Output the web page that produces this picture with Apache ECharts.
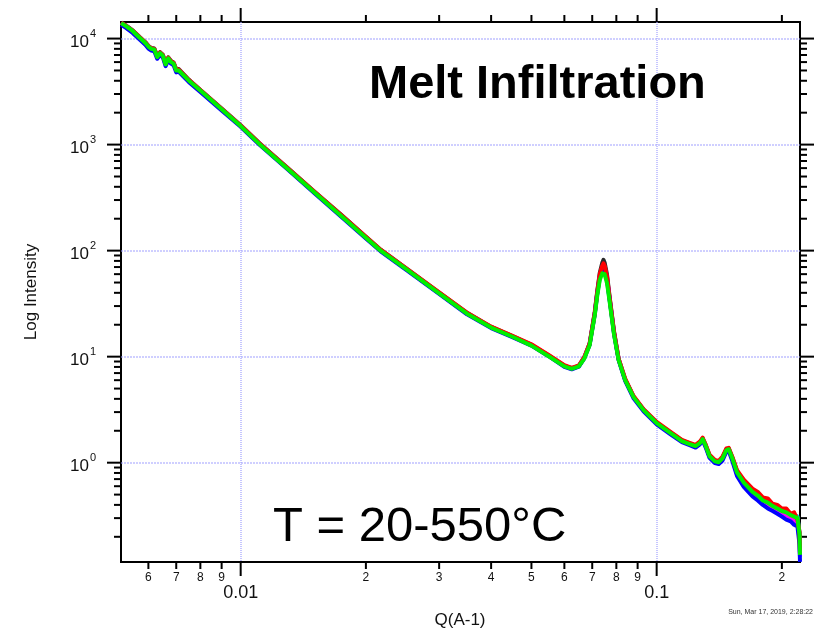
<!DOCTYPE html>
<html><head><meta charset="utf-8">
<script src="https://cdn.jsdelivr.net/npm/echarts@6/dist/echarts.min.js"></script>
<style>html,body{margin:0;padding:0;background:#fff}#c{width:814px;height:630px}</style>
</head><body><div id="c"></div>
<script>
// ---- data ----
const qValues = [0.00516,0.0053,0.0055,0.0057,0.0059,0.0060,0.0061,0.0062,0.0063,0.0064,0.0065,0.0066,0.0067,0.0068,0.0069,0.0070,0.0071,0.0075,0.008,0.009,0.01,0.0111,0.013,0.015,0.0175,0.02,0.0217,0.025,0.03,0.035,0.04,0.045,0.05,0.055,0.06,0.0625,0.065,0.067,0.069,0.071,0.072,0.073,0.074,0.0745,0.075,0.076,0.077,0.079,0.081,0.084,0.088,0.093,0.1,0.108,0.115,0.12,0.124,0.127,0.129,0.131,0.134,0.138,0.141,0.144,0.147,0.149,0.152,0.156,0.162,0.17,0.175,0.18,0.185,0.19,0.195,0.2,0.205,0.21,0.214,0.218,0.2205,0.2211];

const intensityGray = [14200,13300,11950,10450,9250,8550,8150,8050,6850,7450,7050,5850,6650,6150,5950,5150,5150,4100,3280,2190,1520,1030,598,364,215,135,102,68,40.2,25.9,19.1,15.6,12.9,10.2,8.2,7.8,8.2,9.9,13.3,26.5,42,62,77,82,77,59,38,17.2,9.6,6.1,4.2,3.17,2.39,1.92,1.62,1.52,1.45,1.55,1.69,1.48,1.17,1.04,1.02,1.12,1.33,1.36,1.12,0.83,0.67,0.55,0.51,0.45,0.44,0.40,0.38,0.36,0.35,0.33,0.32,0.31,0.22,0.14];
const intensityCyan = [14000,13100,11800,10300,9100,8400,8000,7900,6700,7300,6900,5700,6500,6000,5800,5000,5000,4040,3240,2160,1500,1015,588,358,211,133,100,67,39.6,25.5,18.9,15.5,12.8,10.2,8.15,7.7,8.1,9.7,12.9,25,39,55,64,66,63,51,35,16.3,9.4,6.05,4.18,3.15,2.37,1.91,1.61,1.51,1.44,1.54,1.68,1.47,1.16,1.04,1.02,1.11,1.32,1.35,1.11,0.82,0.66,0.54,0.50,0.45,0.43,0.40,0.38,0.36,0.35,0.33,0.32,0.31,0.21,0.13];
const intensityMagenta = [14050,13150,11850,10350,9150,8450,8050,7950,6750,7350,6950,5750,6550,6050,5850,5050,5050,4060,3250,2165,1505,1018,590,360,212,133,101,67.4,39.8,25.6,19,15.5,12.9,10.3,8.2,7.75,8.15,9.8,13.1,25.5,40,58,70,73,69,55,36,16.6,9.5,6.1,4.2,3.16,2.38,1.92,1.61,1.51,1.44,1.54,1.68,1.47,1.13,1.01,0.99,1.08,1.29,1.32,1.08,0.78,0.62,0.51,0.47,0.42,0.40,0.37,0.35,0.33,0.32,0.30,0.29,0.27,0.19,0.13];
const intensityBlue = [13500,12600,11300,9900,8750,8050,7700,7600,6450,7000,6650,5500,6250,5800,5600,4800,4850,3900,3140,2100,1470,995,578,352,207,130,98.5,65.8,39,25.1,18.6,15.3,12.7,10.1,8.0,7.6,8.05,9.7,13,25.5,40,57,67,70,66,53,36,16.5,9.3,5.9,4.05,3.05,2.3,1.85,1.56,1.46,1.39,1.49,1.63,1.41,1.11,0.99,0.97,1.05,1.26,1.29,1.04,0.75,0.59,0.48,0.44,0.40,0.37,0.35,0.33,0.31,0.29,0.28,0.26,0.25,0.17,0.116];
const intensityRed = [14100,13200,11900,10400,9200,8500,8100,8000,6800,7400,7000,5800,6600,6100,5900,5100,5100,4080,3270,2180,1515,1025,596,363,214,135,102,68,40.3,26,19.2,15.7,13.1,10.4,8.3,7.85,8.25,9.9,13.3,26,41,60,72,76,72,56,37,17,9.6,6.2,4.25,3.2,2.42,1.95,1.64,1.54,1.47,1.58,1.72,1.50,1.19,1.06,1.04,1.14,1.36,1.38,1.14,0.85,0.69,0.57,0.53,0.47,0.46,0.41,0.40,0.37,0.37,0.33,0.34,0.29,0.22,0.14];
const intensityGreen = [14000,13100,11800,10300,9100,8400,8000,7900,6700,7300,6900,5700,6500,6000,5800,5000,5000,4030,3230,2150,1494,1010,586,357,210,132,100,66.8,39.5,25.4,18.8,15.4,12.7,10.1,8.1,7.68,8.08,9.6,12.8,24.6,38,53,61,62,60,49,34,16,9.3,6.0,4.15,3.13,2.36,1.90,1.60,1.50,1.43,1.53,1.67,1.46,1.15,1.03,1.01,1.10,1.31,1.34,1.10,0.81,0.65,0.53,0.49,0.44,0.42,0.39,0.37,0.35,0.34,0.32,0.31,0.30,0.21,0.135];

const xMajorTicks = [0.01, 0.1];
const xMajorLabels = ['0.01', '0.1'];
const xMinorTicks = [0.006,0.007,0.008,0.009,0.02,0.03,0.04,0.05,0.06,0.07,0.08,0.09,0.2];
const xMinorLabels = ['6','7','8','9','2','3','4','5','6','7','8','9','2'];
const yMajorTicks = [1, 10, 100, 1000, 10000];
const yMajorExponents = ['0','1','2','3','4'];
const yMinorTicks = [0.2,0.3,0.4,0.5,0.6,0.7,0.8,0.9,2,3,4,5,6,7,8,9,20,30,40,50,60,70,80,90,200,300,400,500,600,700,800,900,2000,3000,4000,5000,6000,7000,8000,9000];

const xAxisTitle = 'Q(A-1)';
const yAxisTitle = 'Log Intensity';
const chartTitle = 'Melt Infiltration';
const tempNote = 'T = 20-550°C';
const stampText = 'Sun, Mar 17, 2019, 2:28:22';

// ---- chart ----
const FONT = '"Liberation Sans", Arial, sans-serif';
const GRIDC = '#a0a0ff';
const chart = echarts.init(document.getElementById('c'), null, {renderer: 'canvas'});

const lineDefs = [
  {name: 'gray', color: '#2a2a2a', data: intensityGray},
  {name: 'cyan', color: '#00e8f0', data: intensityCyan},
  {name: 'magenta', color: '#ff00ff', data: intensityMagenta},
  {name: 'blue', color: '#0000ff', data: intensityBlue},
  {name: 'red', color: '#ff0000', data: intensityRed},
  {name: 'green', color: '#00f000', data: intensityGreen}
];

const xTickData = xMinorTicks.map((q, i) => [q, 1, 0, i]).concat(xMajorTicks.map((q, i) => [q, 1, 1, i]));
const yTickData = yMinorTicks.map((v, i) => [0.01, v, 0, i]).concat(yMajorTicks.map((v, i) => [0.01, v, 1, i]));

function renderXTick(params, api) {
  const q = api.value(0), major = api.value(2) === 1, idx = api.value(3);
  const x = api.coord([q, 1])[0];
  const xs = Math.round(x);
  const cs = params.coordSys;
  const top = cs.y, bottom = cs.y + cs.height;
  const len = major ? 14 : 7;
  const children = [];
  if (major) children.push({type: 'line', shape: {x1: xs, y1: top, x2: xs, y2: bottom}, style: {stroke: GRIDC, lineWidth: 1.2, lineDash: [1, 1]}});
  children.push({type: 'line', shape: {x1: x, y1: bottom, x2: x, y2: bottom + len}, style: {stroke: '#000', lineWidth: 2}});
  children.push({type: 'line', shape: {x1: x, y1: top, x2: x, y2: top - len}, style: {stroke: '#000', lineWidth: 2}});
  children.push({type: 'text', style: {
    text: major ? xMajorLabels[idx] : xMinorLabels[idx],
    x: x, y: major ? bottom + 31 : bottom + 15.5,
    align: 'center', verticalAlign: 'middle',
    font: (major ? '18px ' : '12px ') + FONT, fill: '#111'
  }});
  return {type: 'group', children};
}

function renderYTick(params, api) {
  const v = api.value(1), major = api.value(2) === 1, idx = api.value(3);
  const y = api.coord([0.01, v])[1];
  const ys = Math.round(y);
  const cs = params.coordSys;
  const left = cs.x, right = cs.x + cs.width;
  const len = major ? 14 : 7;
  const children = [];
  if (major) children.push({type: 'line', shape: {x1: left, y1: ys, x2: right, y2: ys}, style: {stroke: GRIDC, lineWidth: 1.2, lineDash: [2, 1]}});
  children.push({type: 'line', shape: {x1: left - len, y1: y, x2: left, y2: y}, style: {stroke: '#000', lineWidth: 2}});
  children.push({type: 'line', shape: {x1: right, y1: y, x2: right + len, y2: y}, style: {stroke: '#000', lineWidth: 2}});
  if (major) {
    children.push({type: 'text', style: {text: '10', x: left - 32, y: y + 4, align: 'right', verticalAlign: 'middle', font: '17px ' + FONT, fill: '#111'}});
    children.push({type: 'text', style: {text: yMajorExponents[idx], x: left - 31, y: y - 5, align: 'left', verticalAlign: 'middle', font: '11px ' + FONT, fill: '#111'}});
  }
  return {type: 'group', children};
}

const series = [
  {type: 'custom', name: 'xticks', renderItem: renderXTick, data: xTickData, z: 1, silent: true, clip: false},
  {type: 'custom', name: 'yticks', renderItem: renderYTick, data: yTickData, z: 1, silent: true, clip: false}
].concat(lineDefs.map((d, k) => ({
  type: 'line', name: d.name, z: 3 + k,
  data: qValues.map((q, i) => [q, d.data[i]]),
  showSymbol: false, symbol: 'none', clip: false, silent: true,
  lineStyle: {color: d.color, width: 4, join: 'round'},
  itemStyle: {color: d.color}
})));

chart.setOption({
  animation: false,
  backgroundColor: '#fff',
  grid: {left: 121, right: 14, top: 22, bottom: 68, show: true, borderColor: '#000', borderWidth: 2, backgroundColor: 'transparent', containLabel: false, outerBoundsMode: 'none'},
  xAxis: {type: 'log', logBase: 10, min: 0.005156, max: 0.2211,
    axisLine: {show: false}, axisTick: {show: false}, axisLabel: {show: false}, splitLine: {show: false}, minorTick: {show: false}},
  yAxis: {type: 'log', logBase: 10, min: 0.1157, max: 14330,
    axisLine: {show: false}, axisTick: {show: false}, axisLabel: {show: false}, splitLine: {show: false}, minorTick: {show: false}},
  series: series,
  graphic: [
    {type: 'text', x: 369, y: 85, z: 20, style: {text: chartTitle, font: 'bold 47px ' + FONT, fill: '#000', align: 'left', verticalAlign: 'middle'}},
    {type: 'text', x: 273, y: 527, z: 20, style: {text: tempNote, font: '49px ' + FONT, fill: '#000', align: 'left', verticalAlign: 'middle'}},
    {type: 'text', x: 31, y: 292, rotation: Math.PI / 2, z: 20, style: {text: yAxisTitle, font: '17px ' + FONT, fill: '#111', align: 'center', verticalAlign: 'middle'}},
    {type: 'text', x: 460, y: 620, z: 20, style: {text: xAxisTitle, font: '17px ' + FONT, fill: '#111', align: 'center', verticalAlign: 'middle'}},
    {type: 'text', x: 813, y: 612, z: 20, style: {text: stampText, font: '7px ' + FONT, fill: '#333', align: 'right', verticalAlign: 'middle'}}
  ]
});
</script>
</body></html>
